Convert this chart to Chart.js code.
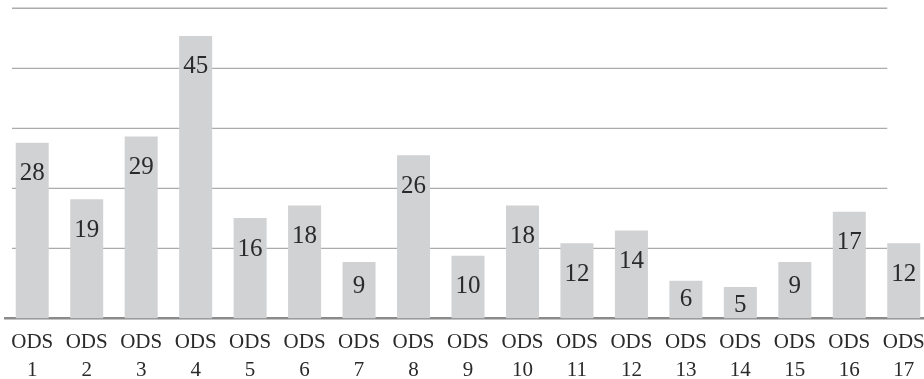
<!DOCTYPE html>
<html>
<head>
<meta charset="utf-8">
<script src="https://cdn.jsdelivr.net/npm/chart.js@4/dist/chart.umd.min.js"></script>
<style>
  html, body { margin: 0; padding: 0; background: #ffffff; overflow: hidden; }
  #wrap { position: relative; width: 936px; height: 379px; }
</style>
</head>
<body>
<div id="wrap"><canvas id="chart"></canvas></div>
<script>
// Goal labels (ODS 1 … ODS 17) and the count for each goal
const goalPrefix = 'ODS';
const goalNumbers = ['1', '2', '3', '4', '5', '6', '7', '8', '9', '10', '11', '12', '13', '14', '15', '16', '17'];
const counts = [28, 19, 29, 45, 16, 18, 9, 26, 10, 18, 12, 14, 6, 5, 9, 17, 12];
// Horizontal reference lines, in value units
const levelLines = [11.18, 20.73, 30.29, 39.84, 49.4];

const labels = goalNumbers.map(n => [goalPrefix, n]);

const TEXT = '#2a2a2a';
const SERIF = '"Liberation Serif", "Times New Roman", serif';

// Reference lines drawn behind the bars, ending where the last bar begins
const levelLinePlugin = {
  id: 'levelLines',
  beforeDatasetsDraw(chart) {
    const { ctx } = chart;
    const ys = chart.scales.y;
    const xs = chart.scales.x;
    const bars = chart.getDatasetMeta(0).data;
    const last = bars[bars.length - 1];
    const x0 = xs.left + 7;
    const x1 = last.x - last.width / 2;
    ctx.save();
    ctx.strokeStyle = '#ababab';
    ctx.lineWidth = 1.3;
    levelLines.forEach(v => {
      const py = ys.getPixelForValue(v);
      ctx.beginPath();
      ctx.moveTo(x0, py);
      ctx.lineTo(x1, py);
      ctx.stroke();
    });
    ctx.restore();
  }
};

// Value written inside the top of each bar; short bars keep it clear of the base
const valueLabelPlugin = {
  id: 'valueLabels',
  afterDatasetsDraw(chart) {
    const { ctx } = chart;
    const meta = chart.getDatasetMeta(0);
    const values = chart.data.datasets[0].data;
    ctx.save();
    ctx.font = '25px ' + SERIF;
    ctx.fillStyle = TEXT;
    ctx.textAlign = 'center';
    ctx.textBaseline = 'middle';
    meta.data.forEach((bar, i) => {
      const preferred = Math.min(bar.y + 31, bar.base - 31.8);
      const cy = Math.max(bar.y + 18.5, preferred);
      ctx.fillText(String(values[i]), bar.x, cy);
    });
    ctx.restore();
  }
};

new Chart(document.getElementById('chart'), {
  type: 'bar',
  data: {
    labels: labels,
    datasets: [{
      data: counts,
      backgroundColor: '#d1d2d4',
      borderWidth: 0,
      categoryPercentage: 1,
      barPercentage: 0.606
    }]
  },
  options: {
    responsive: true,
    maintainAspectRatio: false,
    animation: false,
    events: [],
    layout: { padding: { left: 5, right: 5, top: 4.5, bottom: 0 } },
    plugins: {
      legend: { display: false },
      tooltip: { enabled: false }
    },
    scales: {
      x: {
        z: 1,
        grid: { display: false, drawTicks: false },
        border: { display: true, color: '#8a8a8a', width: 2.5 },
        ticks: {
          autoSkip: false,
          maxRotation: 0,
          minRotation: 0,
          padding: 9.5,
          color: TEXT,
          font: { family: SERIF, size: 21, lineHeight: 1.3333 }
        },
        afterFit(scale) { scale.height = 60.5; }
      },
      y: {
        display: false,
        min: 0,
        max: 50
      }
    }
  },
  plugins: [levelLinePlugin, valueLabelPlugin]
});
</script>
</body>
</html>
